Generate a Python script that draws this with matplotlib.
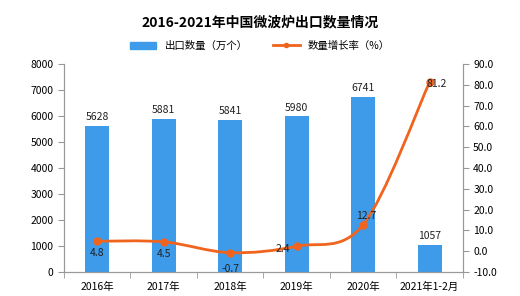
import numpy as np
import matplotlib.pyplot as plt
from matplotlib.path import Path
from matplotlib.patches import PathPatch
from matplotlib.lines import Line2D
from matplotlib.patches import Patch

plt.rcParams['font.family'] = ['Noto Sans CJK SC', 'DejaVu Sans']

categories = ['2016年', '2017年', '2018年', '2019年', '2020年', '2021年1-2月']
export_qty = [5628, 5881, 5841, 5980, 6741, 1057]
growth = [4.8, 4.5, -0.7, 2.4, 12.7, 81.2]

bar_color = '#3d9be9'
line_color = '#f0641e'
axis_color = '#999999'

fig = plt.figure(figsize=(5.2, 2.96), dpi=100)
ax = fig.add_axes([0.123, 0.081, 0.767, 0.703])
ax2 = ax.twinx()

x = np.arange(len(categories))
ax.bar(x, export_qty, width=0.36, color=bar_color, zorder=2)
for xi, v in zip(x, export_qty):
    ax.text(xi, v + 150, str(v), ha='center', va='bottom', fontsize=7.5, color='#222222')

ax.set_xlim(-0.5, len(categories) - 0.5)
ax.set_ylim(0, 8000)
ax.set_yticks(range(0, 8001, 1000))
ax.set_xticks(x)
ax.set_xticklabels(categories, fontsize=7.5)
ax.set_xticks(np.arange(-0.5, len(categories), 1), minor=True)
ax.tick_params(axis='x', which='major', length=0, pad=7)
ax.tick_params(axis='x', which='minor', length=4, color=axis_color)
ax.tick_params(axis='y', labelsize=7.5, length=4, color=axis_color)

# smooth line through the points (Catmull-Rom as cubic Bezier)
pts = np.column_stack([x, growth]).astype(float)
verts = [pts[0]]
codes = [Path.MOVETO]
for i in range(len(pts) - 1):
    p0 = pts[i - 1] if i > 0 else pts[i]
    p1 = pts[i]
    p2 = pts[i + 1]
    p3 = pts[i + 2] if i + 2 < len(pts) else pts[i + 1]
    c1 = p1 + (p2 - p0) / 6
    c2 = p2 - (p3 - p1) / 6
    verts += [c1, c2, p2]
    codes += [Path.CURVE4] * 3
ax2.add_patch(PathPatch(Path(verts, codes), facecolor='none', edgecolor=line_color, lw=2, zorder=3))
ax2.plot(x, growth, 'o', color=line_color, ms=5, zorder=4)

offsets = [(0, -5.8), (0, -5.8), (0, -7.7), (-0.2, -1.5), (0.05, 4.3), (0.1, -1)]
for xi, v, (dx, dy) in zip(x, growth, offsets):
    ax2.text(xi + dx, v + dy, f'{v}', ha='center', va='center', fontsize=7.5, color='#222222', zorder=5)

ax2.set_ylim(-10, 90)
ax2.set_yticks(range(-10, 91, 10))
ax2.set_yticklabels([f'{t:.1f}' for t in range(-10, 91, 10)])
ax2.tick_params(axis='y', labelsize=7.5, length=4, color=axis_color)

for a in (ax, ax2):
    a.spines['top'].set_visible(False)
    for s in ('left', 'right', 'bottom'):
        a.spines[s].set_color(axis_color)

fig.text(0.5, 0.925, '2016-2021年中国微波炉出口数量情况', ha='center', va='center',
         fontsize=10, fontweight='bold')

handles = [Patch(color=bar_color),
           Line2D([0], [0], color=line_color, lw=2, marker='o', ms=3)]
fig.legend(handles, ['出口数量（万个）', '数量增长率（%）'], loc='center',
           bbox_to_anchor=(0.5, 0.845), ncol=2, frameon=False, fontsize=7.5,
           handlelength=2.5, columnspacing=2.5)

fig.savefig('out.png', dpi=100)
